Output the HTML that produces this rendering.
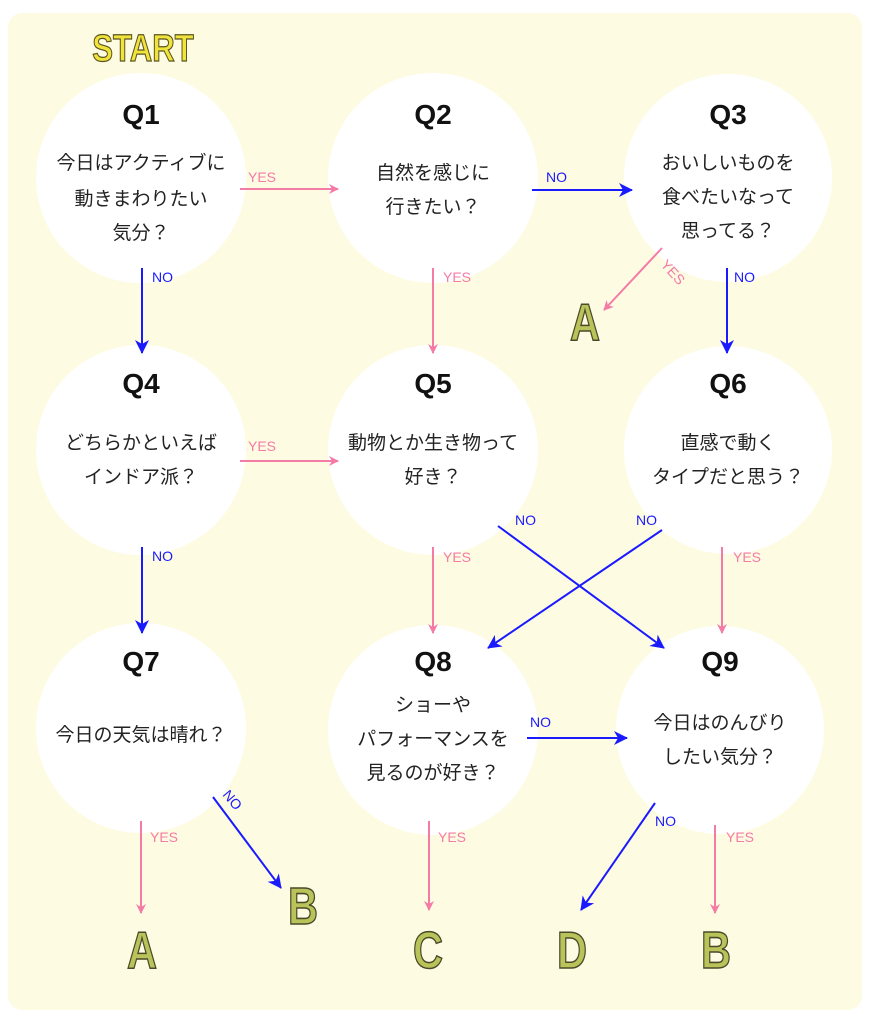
<!DOCTYPE html>
<html><head><meta charset="utf-8"><style>
body{margin:0;background:#fff;}
svg{display:block;}
.q{font-family:"Liberation Sans","Noto Sans CJK JP",sans-serif;font-weight:bold;font-size:28px;fill:#111;text-anchor:middle;}
.t{font-family:"Liberation Sans","Noto Sans CJK JP",sans-serif;font-size:19px;fill:#222;text-anchor:middle;}
.y{font-family:"Liberation Sans",sans-serif;font-size:14px;fill:#f47ba6;}
.n{font-family:"Liberation Sans",sans-serif;font-size:14px;fill:#1a1aff;}
.L{font-family:"Liberation Sans",sans-serif;font-weight:bold;font-size:52px;fill:#b9c35a;stroke:#4a4a2a;stroke-width:1.5;text-anchor:middle;}
</style></head><body>
<svg width="871" height="1024" viewBox="0 0 871 1024">
<defs>
<marker id="ap" markerWidth="10" markerHeight="10" refX="9" refY="5" orient="auto" markerUnits="userSpaceOnUse"><path d="M0,0 L10,5 L0,10 L3,5z" fill="#f47ba6"/></marker>
<marker id="ab" markerWidth="14" markerHeight="14" refX="13" refY="7" orient="auto" markerUnits="userSpaceOnUse"><path d="M0,0 L14,7 L0,14 L4,7z" fill="#1a1aff"/></marker>
</defs>
<rect x="8" y="13" width="854" height="997" rx="14" fill="#fefbe3"/>
<g transform="translate(143 61) scale(0.82 1)"><text x="0" y="0" font-family="Liberation Sans,sans-serif" font-weight="bold" font-size="38" fill="#f0e33c" stroke="#5a5420" stroke-width="1.2" text-anchor="middle">START</text></g>
<g fill="#fff">
<circle cx="141" cy="178" r="105"/><circle cx="433" cy="178" r="105"/><circle cx="728" cy="178" r="104"/>
<circle cx="141" cy="450" r="105"/><circle cx="433" cy="450" r="105"/><circle cx="728" cy="450" r="104"/>
<circle cx="141" cy="728" r="105"/><circle cx="433" cy="730" r="105"/><circle cx="720" cy="730" r="104"/>
</g>
<g class="q"><text x="141" y="124">Q1</text><text x="433" y="124">Q2</text><text x="728" y="124">Q3</text>
<text x="141" y="393">Q4</text><text x="433" y="393">Q5</text><text x="728" y="393">Q6</text>
<text x="141" y="671">Q7</text><text x="433" y="671">Q8</text><text x="720" y="671">Q9</text></g>
<g class="t">
<text x="141" y="169">今日はアクティブに</text><text x="141" y="205">動きまわりたい</text><text x="141" y="239">気分？</text>
<text x="433" y="179">自然を感じに</text><text x="433" y="213">行きたい？</text>
<text x="728" y="169">おいしいものを</text><text x="728" y="203">食べたいなって</text><text x="728" y="237">思ってる？</text>
<text x="141" y="449">どちらかといえば</text><text x="141" y="483">インドア派？</text>
<text x="433" y="449">動物とか生き物って</text><text x="433" y="483">好き？</text>
<text x="728" y="449">直感で動く</text><text x="728" y="483">タイプだと思う？</text>
<text x="141" y="741">今日の天気は晴れ？</text>
<text x="433" y="711">ショーや</text><text x="433" y="745">パフォーマンスを</text><text x="433" y="779">見るのが好き？</text>
<text x="720" y="729">今日はのんびり</text><text x="720" y="763">したい気分？</text>
</g>
<g stroke-width="2" fill="none">
<line x1="240" y1="189" x2="338" y2="189" stroke="#f47ba6" marker-end="url(#ap)"/>
<line x1="532" y1="190" x2="632" y2="190" stroke="#1a1aff" marker-end="url(#ab)"/>
<line x1="142" y1="268" x2="142" y2="353" stroke="#1a1aff" marker-end="url(#ab)"/>
<line x1="433" y1="268" x2="433" y2="353" stroke="#f47ba6" marker-end="url(#ap)"/>
<line x1="662" y1="248" x2="604" y2="310" stroke="#f47ba6" marker-end="url(#ap)"/>
<line x1="727" y1="268" x2="727" y2="353" stroke="#1a1aff" marker-end="url(#ab)"/>
<line x1="240" y1="461" x2="338" y2="461" stroke="#f47ba6" marker-end="url(#ap)"/>
<line x1="142" y1="547" x2="142" y2="633" stroke="#1a1aff" marker-end="url(#ab)"/>
<line x1="433" y1="547" x2="433" y2="633" stroke="#f47ba6" marker-end="url(#ap)"/>
<line x1="722" y1="547" x2="722" y2="633" stroke="#f47ba6" marker-end="url(#ap)"/>
<line x1="498" y1="526" x2="664" y2="648" stroke="#1a1aff" marker-end="url(#ab)"/>
<line x1="662" y1="530" x2="488" y2="648" stroke="#1a1aff" marker-end="url(#ab)"/>
<line x1="527" y1="738" x2="627" y2="738" stroke="#1a1aff" marker-end="url(#ab)"/>
<line x1="141" y1="821" x2="141" y2="913" stroke="#f47ba6" marker-end="url(#ap)"/>
<line x1="213" y1="797" x2="281" y2="888" stroke="#1a1aff" marker-end="url(#ab)"/>
<line x1="429" y1="821" x2="429" y2="910" stroke="#f47ba6" marker-end="url(#ap)"/>
<line x1="655" y1="803" x2="581" y2="910" stroke="#1a1aff" marker-end="url(#ab)"/>
<line x1="715" y1="825" x2="715" y2="913" stroke="#f47ba6" marker-end="url(#ap)"/>
</g>
<g class="y"><text x="248" y="182">YES</text><text x="443" y="282">YES</text><text x="248" y="451">YES</text>
<text x="443" y="562">YES</text><text x="733" y="562">YES</text><text x="150" y="842">YES</text><text x="438" y="842">YES</text><text x="726" y="842">YES</text>
<text x="660" y="265" transform="rotate(48 660 265)">YES</text></g>
<g class="n"><text x="546" y="182">NO</text><text x="152" y="282">NO</text><text x="734" y="282">NO</text>
<text x="152" y="561">NO</text><text x="515" y="525">NO</text><text x="636" y="525">NO</text><text x="530" y="727">NO</text><text x="655" y="826">NO</text>
<text x="222" y="795" transform="rotate(50 222 795)">NO</text></g>
<g class="L">
<text transform="translate(585 340) scale(0.8 1)">A</text>
<text transform="translate(142 968) scale(0.8 1)">A</text>
<text transform="translate(303 924) scale(0.8 1)">B</text>
<text transform="translate(428 968) scale(0.8 1)">C</text>
<text transform="translate(572 968) scale(0.8 1)">D</text>
<text transform="translate(716 968) scale(0.8 1)">B</text></g>
</svg>
</body></html>
